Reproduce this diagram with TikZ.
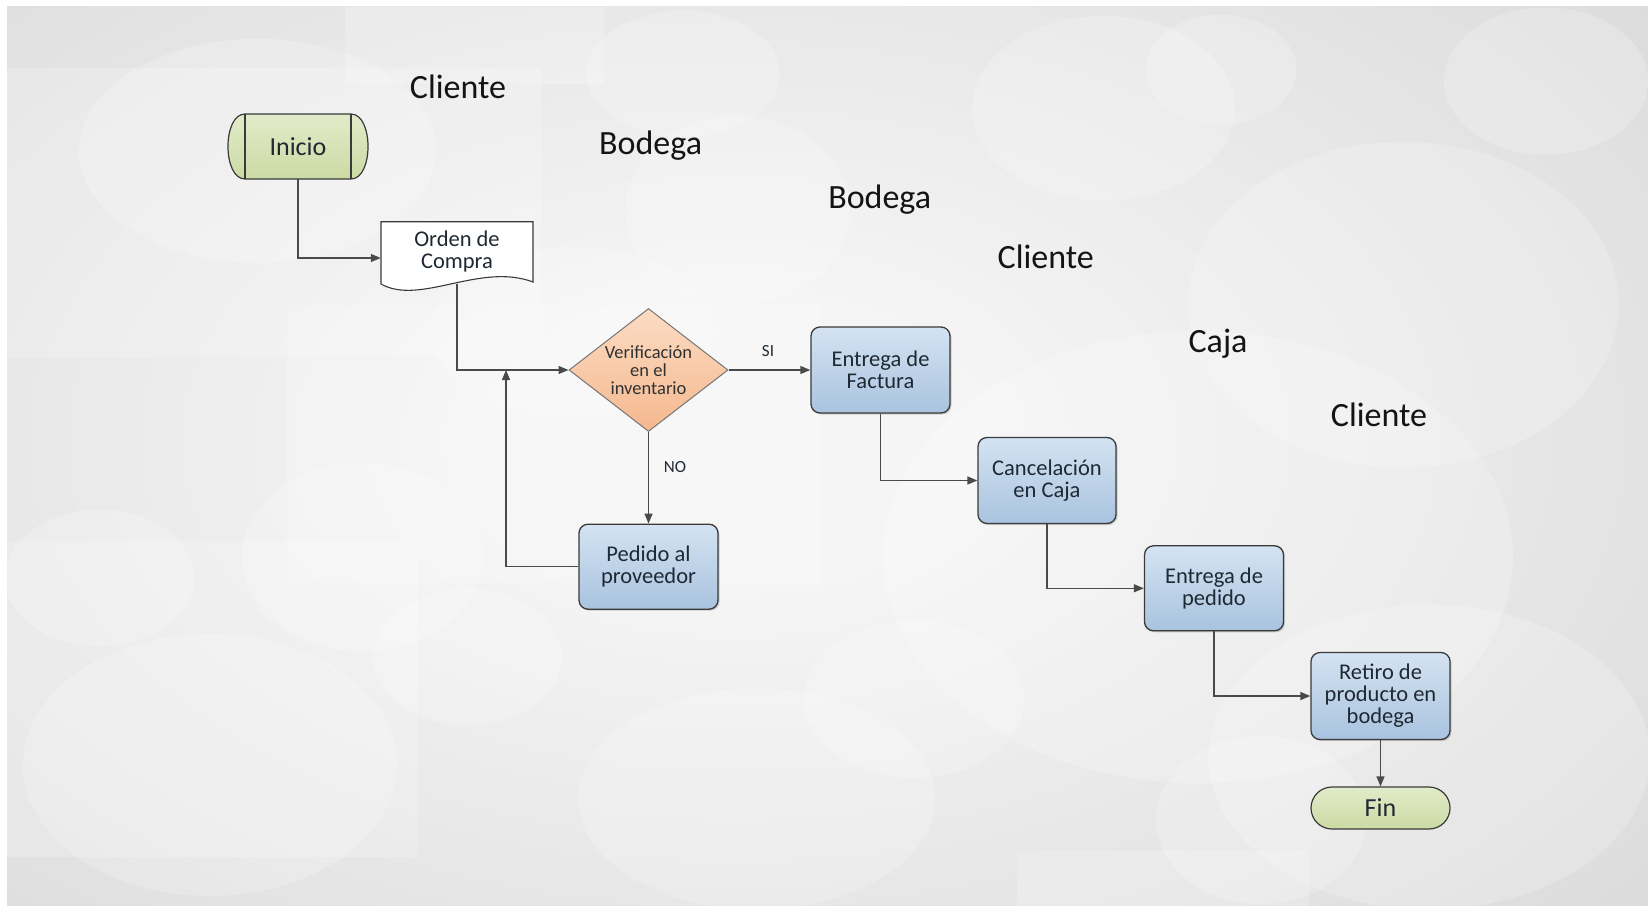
\documentclass[tikz,border=0pt]{standalone}
\usepackage{fontspec}
\setmainfont{Carlito}
\usetikzlibrary{arrows.meta,shapes.geometric,shapes.misc,shadows,calc}

\definecolor{bgout}{HTML}{C4C4C4}
\definecolor{bgmid}{HTML}{D8D8D8}
\definecolor{bgin}{HTML}{F5F5F5}
\definecolor{procA}{HTML}{D4E3F2}
\definecolor{procB}{HTML}{A9C3DF}
\definecolor{termA}{HTML}{E2EBC9}
\definecolor{termB}{HTML}{CCDAA4}
\definecolor{decA}{HTML}{FCDCC3}
\definecolor{decB}{HTML}{F5B88E}
\definecolor{edge}{HTML}{3A3A3A}
\definecolor{wire}{HTML}{4A4A4A}
\definecolor{ink}{HTML}{1F2933}

\pgfdeclareradialshading{glow}{\pgfpoint{0bp}{0bp}}{color(0bp)=(bgin); color(4bp)=(bgin); color(22bp)=(bgmid); color(40bp)=(bgout); color(50bp)=(bgout)}

\tikzset{
  proc/.style={rectangle, rounded corners=9pt, minimum width=139pt, minimum height=86pt,
    top color=procA, bottom color=procB, draw=edge, line width=1.3pt, align=center,
    text=ink, font=\fontsize{22.5}{22}\selectfont, inner sep=0pt,
    drop shadow={shadow xshift=1.5pt, shadow yshift=-1.5pt, opacity=0.35}},
  decision/.style={diamond, aspect=1.3, inner sep=0pt, minimum width=159pt, minimum height=123pt,
    top color=decA, bottom color=decB, draw=edge!70, line width=1pt, align=center,
    text=ink!90!brown, font=\fontsize{18.5}{18}\selectfont},
  termshape/.style={top color=termA, bottom color=termB, draw=edge, line width=1.2pt},
  termtext/.style={text=ink, font=\fontsize{26}{28}\selectfont, inner sep=0pt},
  docshape/.style={fill=white, draw=edge, line width=1.1pt},
  lane/.style={font=\fontsize{34}{40}\selectfont, text=black!92, inner sep=0pt},
  lbl/.style={font=\fontsize{17}{19}\selectfont, text=ink, inner sep=0pt},
  flow/.style={draw=wire, line width=1.3pt, -{Triangle[length=10pt,width=8pt]}},
  haze/.style={fill=white, opacity=0.2},
}

\begin{document}
\begin{tikzpicture}[x=1pt, y=-1pt]
\useasboundingbox (0,0) rectangle (1648,907);
\fill[white] (0,0) rectangle (1648,907);

% backdrop: grey glow with translucent discs and panels
\begin{scope}
  \clip (7,7) rectangle (1648,905);
  \fill[bgout] (7,7) rectangle (1648,905);
  \shade[shading=glow] (735,440) ellipse [x radius=1500pt, y radius=900pt];
  \fill[haze] (7.4,68.3) rectangle (541.3,357.3);
  \fill[haze] (344.7,7.4) rectangle (604.3,84);
  \fill[haze] (287,304.8) rectangle (819.8,583.3);
  \fill[haze] (7.4,541.3) rectangle (418.3,856.6);
  \fill[haze] (1017.4,851.3) rectangle (1308.5,906);
  \fill[haze] (257.5,150.8) ellipse [x radius=178.7pt, y radius=112pt];
  \fill[haze] (737.8,210.2) ellipse [x radius=112.5pt, y radius=94.6pt];
  \fill[haze] (1103.5,108.3) ellipse [x radius=131.4pt, y radius=92.5pt];
  \fill[haze] (1221,69.4) ellipse [x radius=75.7pt, y radius=54.7pt];
  \fill[haze] (1546,81) ellipse [x radius=102pt, y radius=73.6pt];
  \fill[haze] (1403,304.8) ellipse [x radius=215.5pt, y radius=163pt];
  \fill[haze] (1198,557) ellipse [x radius=315pt, y radius=226pt];
  \fill[haze] (362.6,557) ellipse [x radius=121pt, y radius=94.6pt];
  \fill[haze] (99.8,578) ellipse [x radius=94.6pt, y radius=68.3pt];
  \fill[haze] (210,765) ellipse [x radius=187pt, y radius=131pt];
  \fill[haze] (467.7,657) ellipse [x radius=94.6pt, y radius=68.3pt];
  \fill[haze] (756.7,798.8) ellipse [x radius=178.7pt, y radius=110.4pt];
  \fill[haze] (914,699) ellipse [x radius=110.4pt, y radius=78.8pt];
  \fill[haze] (1261,820) ellipse [x radius=105pt, y radius=84pt];
  \fill[haze] (1429,757) ellipse [x radius=220.7pt, y radius=152.4pt];
  \fill[haze] (572.8,331) ellipse [x radius=142pt, y radius=84pt];
  \fill[haze] (683,73.6) ellipse [x radius=96.7pt, y radius=63pt];
\end{scope}

% lane captions
\node[lane] (l1) at (458,87) {Cliente};
\node[lane] (l2) at (650.6,146) {Bodega};
\node[lane] (l3) at (879.7,199.7) {Bodega};
\node[lane] (l4) at (1045.7,256.4) {Cliente};
\node[lane] (l5) at (1218,343.7) {Caja};
\node[lane] (l6) at (1379,415) {Cliente};

% start terminator with side bars
\draw[termshape] (245,114) -- (351,114) .. controls (373.7,114) and (373.7,179) .. (351,179)
  -- (245,179) .. controls (222.3,179) and (222.3,114) .. (245,114) -- cycle;
\draw[edge, line width=1.2pt] (245,114) -- (245,179) (351,114) -- (351,179);
\node[termtext, minimum width=140pt, minimum height=65pt] (inicio) at (298,146.5) {Inicio};

% purchase order document
\draw[docshape] (381,221.7) -- (533,221.7) -- (533,282)
  .. controls (480,262) and (420,306) .. (381,284) -- cycle;
\node[inner sep=0pt, minimum width=152pt, minimum height=62pt, text=ink,
  font=\fontsize{22.5}{22}\selectfont] (orden) at (457,253)
  {\raisebox{5pt}{\begin{tabular}{@{}c@{}}Orden de\\Compra\end{tabular}}};

% decision and process steps
\node[decision] (dec) at (648.5,370) {Verificación\\en el\\inventario};
\node[proc] (fact) at (880.5,370) {Entrega de\\Factura};
\node[proc, minimum height=85pt] (ped) at (648.5,566.7) {Pedido al\\proveedor};
\node[proc, minimum width=138pt] (canc) at (1047,480.5) {Cancelación\\en Caja};
\node[proc, minimum height=85pt] (entp) at (1214,588.3) {Entrega de\\pedido};
\node[proc, minimum height=87pt] (ret) at (1380.5,696) {Retiro de\\producto en\\bodega};
\node[rounded rectangle, termshape, termtext, minimum width=139pt, minimum height=42pt] (fin) at (1380.5,808) {Fin};

% connectors
\coordinate (merge) at (506,370);
\draw[flow] (inicio.south) |- ([yshift=-5pt]orden.west);
\draw[flow] (orden.south) |- (dec.west);
\draw[flow] (dec.east) -- (fact.west);
\draw[flow] (dec.south) -- (ped.north);
\draw[flow] (ped.west) -| (merge);
\draw[flow] (fact.south) |- (canc.west);
\draw[flow] (canc.south) |- (entp.west);
\draw[flow] (entp.south) |- (ret.west);
\draw[flow] (ret.south) -- (fin.north);

\node[lbl] (si) at (768,351) {SI};
\node[lbl] (no) at (675,467) {NO};
\end{tikzpicture}
\end{document}
